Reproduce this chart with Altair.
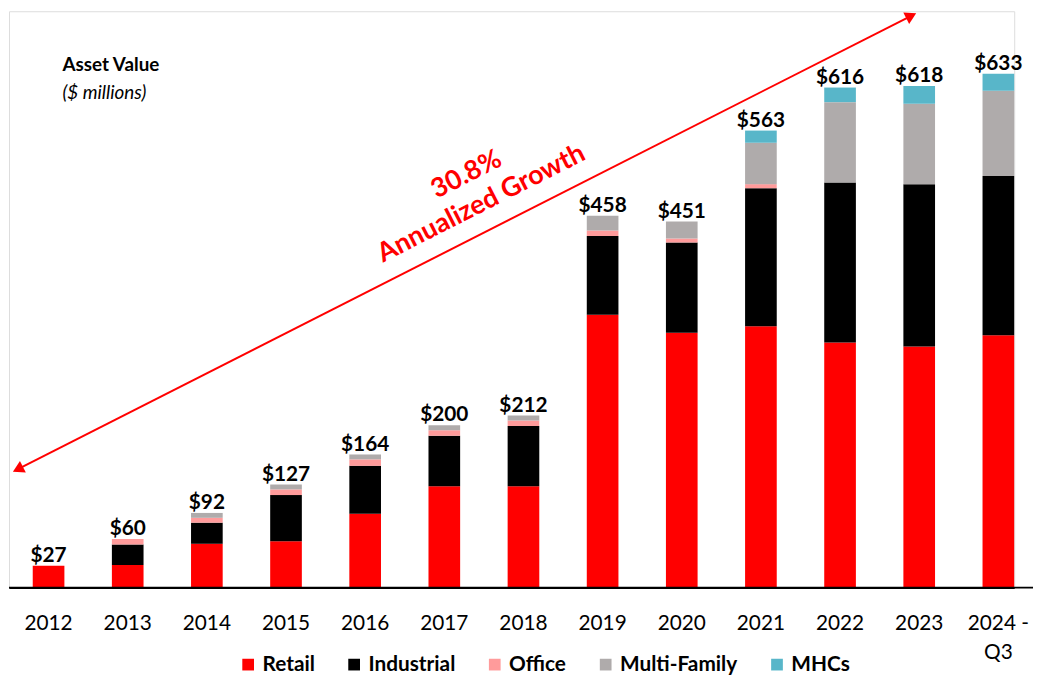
import altair as alt
import pandas as pd

# ---- data ----
years = ["2012", "2013", "2014", "2015", "2016", "2017", "2018",
         "2019", "2020", "2021", "2022", "2023", "2024 - Q3"]
categories = ["Retail", "Industrial", "Office", "Multi-Family", "MHCs"]
retail      = [27, 28, 54, 57, 91, 125, 125, 336, 314, 322, 302, 297, 311]
industrial  = [0, 25, 26, 57, 59, 62, 74, 97, 111, 170, 197, 200, 196]
office      = [0, 7, 6, 7, 8, 7, 7, 7, 5, 5, 0, 0, 0]
multifamily = [0, 0, 6, 6, 6, 6, 6, 18, 21, 51, 99, 99, 105]
mhcs        = [0, 0, 0, 0, 0, 0, 0, 0, 0, 15, 18, 22, 21]
colors = ["#FF0000", "#000000", "#FF9B9B", "#AFABAB", "#58B6C9"]

title_lines = ["Asset Value", "($ millions)"]
growth_text = ["30.8%", "Annualized Growth"]

series = [retail, industrial, office, multifamily, mhcs]
rows = []
for ci, (cat, vals) in enumerate(zip(categories, series)):
    for y, v in zip(years, vals):
        if v > 0:
            rows.append({"year": y, "category": cat, "value": v, "idx": ci})
df = pd.DataFrame(rows)

totals = [sum(s[i] for s in series) for i in range(len(years))]
tot_df = pd.DataFrame({"year": years, "total": totals,
                       "label": ["$" + str(t) for t in totals]})

FONT = "Lato"
W, H = 1015, 582

xenc = alt.X("year:N", sort=years,
             scale=alt.Scale(paddingInner=0.6, paddingOuter=0.15, align=1),
             axis=alt.Axis(title=None, labelAngle=0, ticks=False,
                           domainColor="black", domainWidth=2,
                           labelFont=FONT, labelFontSize=21, labelColor="black",
                           labelPadding=25, labelLineHeight=30,
                           labelExpr="datum.value == '2024 - Q3' ? ['2024 -', 'Q3'] : datum.label"))
yscale = alt.Scale(domain=[0, 710])

bars = alt.Chart(df).mark_bar().encode(
    x=xenc,
    y=alt.Y("value:Q", stack="zero", scale=yscale, axis=None),
    color=alt.Color("category:N", sort=categories,
                    scale=alt.Scale(domain=categories, range=colors),
                    legend=alt.Legend(title=None, orient="none", legendX=231, legendY=649,
                                      direction="horizontal", symbolType="square",
                                      symbolSize=140, symbolStrokeWidth=0,
                                      labelFont=FONT, labelFontSize=21,
                                      labelFontWeight="bold", labelColor="black",
                                      labelOffset=4, columnPadding=29)),
    order=alt.Order("idx:Q", sort="ascending"),
)

labels = alt.Chart(tot_df).mark_text(
    font=FONT, fontSize=21, fontWeight="bold", color="black",
    baseline="alphabetic", dy=-4
).encode(
    x=alt.X("year:N", sort=years),
    y=alt.Y("total:Q", scale=yscale),
    text="label:N",
)

# baseline extension to the right edge
base_rule = alt.Chart(pd.DataFrame({"a": [0]})).mark_rule(
    color="black", strokeWidth=2
).encode(x=alt.value(0), x2=alt.value(1034), y=alt.value(H))

# growth arrow
arrow = alt.Chart(pd.DataFrame({"a": [0]})).mark_rule(
    color="#FF0000", strokeWidth=2
).encode(x=alt.value(9), y=alt.value(462.4), x2=alt.value(911), y2=alt.value(4.6))

head_up = alt.Chart(pd.DataFrame({"a": [0]})).mark_point(
    shape="triangle-up", filled=True, color="#FF0000", size=170, angle=63, opacity=1
).encode(x=alt.value(911), y=alt.value(4.6))

head_down = alt.Chart(pd.DataFrame({"a": [0]})).mark_point(
    shape="triangle-up", filled=True, color="#FF0000", size=170, angle=243, opacity=1
).encode(x=alt.value(9), y=alt.value(462.4))

growth = alt.Chart(pd.DataFrame({"a": [0]})).mark_text(
    text=growth_text, font=FONT, fontSize=27, fontWeight="bold", color="#FF0000",
    angle=333, align="center", baseline="middle", lineHeight=33
).encode(x=alt.value(462), y=alt.value(165))

t1 = alt.Chart(pd.DataFrame({"a": [0]})).mark_text(
    text=title_lines[0], font=FONT, fontSize=19, fontWeight="bold", color="black",
    align="left", baseline="alphabetic"
).encode(x=alt.value(54), y=alt.value(60))

t2 = alt.Chart(pd.DataFrame({"a": [0]})).mark_text(
    text=title_lines[1], font=FONT, fontSize=19, fontStyle="italic", color="black",
    align="left", baseline="alphabetic"
).encode(x=alt.value(54), y=alt.value(89))

chart = alt.layer(bars, labels, base_rule, arrow, head_up, head_down, growth, t1, t2).properties(
    width=W, height=H, padding=0
).configure_view(stroke=None).configure(font=FONT)

chart.save("out.html", embed_options={"renderer": "svg", "actions": False})
